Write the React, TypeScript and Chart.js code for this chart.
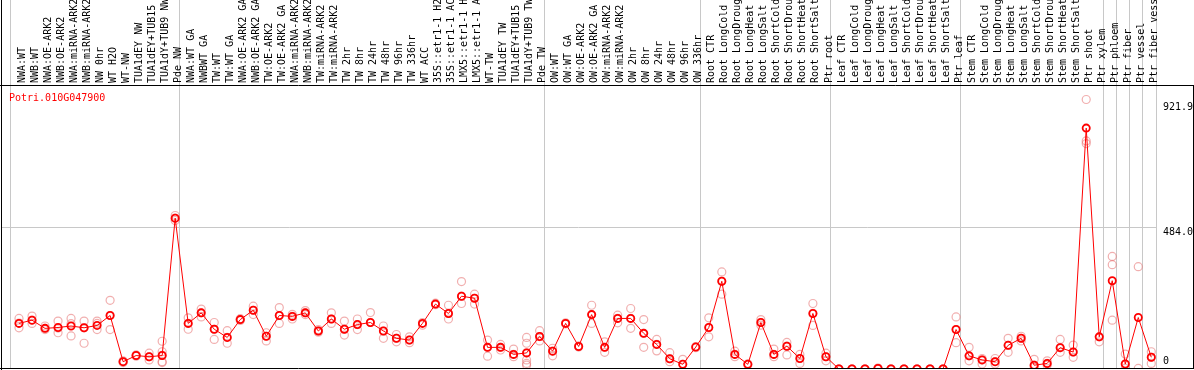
import React, { useEffect, useRef } from 'react';
import { Chart, registerables } from 'chart.js';

Chart.register(...registerables);

const GENE_ID = 'Potri.010G047900';

const CATEGORIES: string[] = [
  'NWA:WT', 'NWB:WT', 'NWA:OE-ARK2', 'NWB:OE-ARK2', 'NWA:miRNA-ARK2', 'NWB:miRNA-ARK2',
  'NW 0hr', 'WT H2O', 'WT-NW', 'TUA1dEY NW', 'TUA1dEY+TUB15 NW', 'TUA1dY+TUB9 NW', 'Pde NW',
  'NWA:WT GA', 'NWBWT GA', 'TW:WT', 'TW:WT GA', 'NWA:OE-ARK2 GA', 'NWB:OE-ARK2 GA', 'TW:OE-ARK2',
  'TW:OE-ARK2 GA', 'NWA:miRNA-ARK2 GA', 'NWB:miRNA-ARK2 GA', 'TW:miRNA-ARK2', 'TW:miRNA-ARK2 GA',
  'TW 2hr', 'TW 8hr', 'TW 24hr', 'TW 48hr', 'TW 96hr', 'TW 336hr', 'WT ACC',
  '35S::etr1-1 H2O', '35S::etr1-1 ACC', 'LMX5::etr1-1 H2O', 'LMX5::etr1-1 ACC', 'WT-TW',
  'TUA1dEY TW', 'TUA1dEY+TUB15 TW', 'TUA1dY+TUB9 TW', 'Pde TW',
  'OW:WT', 'OW:WT GA', 'OW:OE-ARK2', 'OW:OE-ARK2 GA', 'OW:miRNA-ARK2', 'OW:miRNA-ARK2 GA',
  'OW 2hr', 'OW 8hr', 'OW 24hr', 'OW 48hr', 'OW 96hr', 'OW 336hr',
  'Root CTR', 'Root LongCold', 'Root LongDrought', 'Root LongHeat', 'Root LongSalt',
  'Root ShortCold', 'Root ShortDrought', 'Root ShortHeat', 'Root ShortSalt', 'Ptr root',
  'Leaf CTR', 'Leaf LongCold', 'Leaf LongDrought', 'Leaf LongHeat', 'Leaf LongSalt',
  'Leaf ShortCold', 'Leaf ShortDrought', 'Leaf ShortHeat', 'Leaf ShortSalt', 'Ptr leaf',
  'Stem CTR', 'Stem LongCold', 'Stem LongDrought', 'Stem LongHeat', 'Stem LongSalt',
  'Stem ShortCold', 'Stem ShortDrought', 'Stem ShortHeat', 'Stem ShortSalt', 'Ptr shoot', 'Ptr xylem',
  'Ptr phloem', 'Ptr fiber', 'Ptr vessel', 'Ptr fiber vessel',
];

// first category index of each group (last entry = end)
const GROUP_STARTS: number[] = [0, 13, 41, 53, 63, 73, 84, 85, 86, 87, 88];

const MEANS: number[] = [
  156, 167, 139, 142, 147, 141, 149, 183, 25, 46, 42, 46, 516,
  156, 192, 136, 108, 169, 201, 112, 183, 180, 192, 130, 171, 136, 152, 159, 130, 105, 99,
  156, 222, 190, 249, 242, 74, 74, 50, 55, 111,
  61, 156, 77, 186, 74, 173, 173, 122, 84, 35, 16, 75,
  142, 300, 50, 16, 159, 50, 78, 36, 190, 42,
  0, 0, 0, 2, 0, 0, 0, 0, 0, 135,
  45, 31, 25, 81, 105, 13, 19, 73, 58, 824, 110,
  302, 17, 176, 40,
];

const REPLICATES: number[][] = [
  [173, 157, 141], [181, 167, 156], [147, 139, 135], [164, 140, 124], [173, 155, 113],
  [164, 141, 88], [164, 156, 135], [235, 183, 135], [28, 25, 22], [48, 46, 44],
  [54, 42, 31], [95, 59, 47, 25, 22], [525, 516, 508],
  [175, 156, 136], [205, 192, 178], [159, 136, 101], [131, 108, 88], [172, 169, 166],
  [215, 201, 186], [124, 112, 96], [210, 183, 156], [187, 180, 171], [200, 192, 186],
  [135, 130, 126], [192, 171, 156], [164, 136, 116], [171, 152, 135], [193, 159],
  [147, 130, 105], [118, 105, 93], [110, 99, 90], [159, 150], [225, 220],
  [218, 190, 171], [299, 249, 224], [256, 242, 222], [99, 74, 44], [84, 74, 65],
  [68, 50, 42], [108, 88, 55, 31, 19, 13], [131, 111, 96],
  [71, 61, 45], [158, 154], [79, 75], [218, 186, 156], [93, 74, 57], [184, 173, 158],
  [207, 173, 139], [169, 122, 74], [101, 84, 62], [56, 35, 25], [33, 16], [77, 73],
  [175, 142, 110], [332, 300, 256], [61, 50, 42], [18, 14], [169, 159, 150],
  [68, 50, 42], [91, 78, 48], [50, 36, 19], [224, 190, 149], [54, 42, 28],
  [0, 0, 0], [0, 0, 0], [0, 0, 0], [3, 2, 1], [0, 0, 0], [0, 0, 0], [0, 0, 0], [0, 0, 0],
  [0, 0, 0], [178, 135, 90],
  [74, 45, 28], [36, 31, 17], [36, 25, 17], [105, 81, 57], [112, 105, 96], [33, 13, 6],
  [28, 19, 13], [101, 73, 57], [82, 58, 40], [921.9, 780, 771], [110, 93],
  [385, 357, 167], [51, 17, 2], [350, 2], [59, 40, 19],
];

const RED = '#ff0000';
const REP_COLOR = 'rgba(230, 110, 110, 0.55)';
const GRID = '#c8c8c8';
const NONE = 'rgba(0,0,0,0)';
const FONT = "'DejaVu Sans Mono', monospace";

// category i sits 0.638 of a slot to the right of its group boundary
const EDGE = 0.638;
const X_MIN = -1.383;
const X_MAX = GROUP_STARTS[GROUP_STARTS.length - 1] - EDGE;

const framePlugin = {
  id: 'frame',
  afterDraw(chart: any) {
    const { ctx, chartArea } = chart;
    const W = chart.width;
    ctx.save();
    ctx.strokeStyle = '#000';
    ctx.lineWidth = 1;
    ctx.beginPath();
    ctx.moveTo(0, chartArea.top - 0.5);
    ctx.lineTo(W, chartArea.top - 0.5);
    ctx.moveTo(0, chartArea.bottom - 0.5);
    ctx.lineTo(W, chartArea.bottom - 0.5);
    ctx.moveTo(chartArea.left + 0.5, 0);
    ctx.lineTo(chartArea.left + 0.5, chart.height);
    ctx.moveTo(W - 0.5, chartArea.top);
    ctx.lineTo(W - 0.5, chartArea.bottom);
    ctx.stroke();
    ctx.fillStyle = RED;
    ctx.font = `10px ${FONT}`;
    ctx.textBaseline = 'alphabetic';
    ctx.textAlign = 'left';
    ctx.fillText(GENE_ID, 9, chartArea.top + 15);
    ctx.restore();
  },
};

export default function App() {
  const ref = useRef<HTMLCanvasElement | null>(null);

  useEffect(() => {
    if (!ref.current) return;
    const peak = Math.max(...MEANS, ...REPLICATES.flat());
    const yTop = peak * 1.05;
    const mid = yTop / 2;

    const repPoints = REPLICATES.flatMap((reps, i) => reps.map((v) => ({ x: i, y: v })));
    const meanPoints = MEANS.map((v, i) => ({ x: i, y: v }));

    const chart = new Chart(ref.current, {
      type: 'line',
      data: {
        datasets: [
          {
            label: 'mean',
            data: meanPoints,
            borderColor: RED,
            borderWidth: 1,
            pointRadius: 3.6,
            pointBorderWidth: 1.8,
            pointBorderColor: RED,
            pointBackgroundColor: NONE,
            tension: 0,
            order: 1,
          },
          {
            label: 'replicates',
            data: repPoints,
            showLine: false,
            pointRadius: 4,
            pointBorderWidth: 1.2,
            pointBorderColor: REP_COLOR,
            pointBackgroundColor: NONE,
            order: 2,
          },
        ],
      },
      plugins: [framePlugin],
      options: {
        animation: false,
        responsive: false,
        layout: { autoPadding: false, padding: { left: 1, right: 0, top: 0, bottom: 1 } },
        plugins: { legend: { display: false }, tooltip: { enabled: false } },
        scales: {
          x: {
            type: 'linear',
            position: 'top',
            min: X_MIN,
            max: X_MAX,
            afterBuildTicks: (s: any) => {
              const t = [
                ...CATEGORIES.map((_, i) => i),
                ...GROUP_STARTS.map((g) => g - EDGE),
              ].sort((a, b) => a - b);
              s.ticks = t.map((v) => ({ value: v }));
            },
            afterFit: (s: any) => {
              s.height = 86;
              s.paddingLeft = 0;
              s.paddingRight = 0;
              s.paddingTop = 0;
              s.paddingBottom = 0;
            },
            grid: {
              color: (c: any) => (c.tick && !Number.isInteger(c.tick.value) ? GRID : NONE),
              tickLength: 86,
              lineWidth: 1,
            },
            border: { display: false },
            ticks: {
              autoSkip: false,
              minRotation: 90,
              maxRotation: 90,
              padding: -83,
              labelOffset: 15,
              color: '#000',
              font: { family: FONT, size: 10 },
              callback: (v: any) => (Number.isInteger(v) ? CATEGORIES[v] : ''),
            },
          },
          y: {
            type: 'linear',
            position: 'right',
            min: 0,
            max: yTop,
            afterBuildTicks: (s: any) => {
              s.ticks = [0, mid, peak].map((v) => ({ value: v }));
            },
            afterFit: (s: any) => {
              s.width = 38;
              s.paddingTop = 0;
              s.paddingBottom = 0;
              s.paddingLeft = 0;
              s.paddingRight = 0;
            },
            grid: {
              color: (c: any) => (c.tick && Math.abs(c.tick.value - mid) < 1e-6 ? GRID : NONE),
              drawTicks: false,
            },
            border: { display: false },
            ticks: {
              autoSkip: false,
              padding: 7,
              color: '#000',
              font: { family: FONT, size: 10, lineHeight: 0.5 },
              callback: (v: any) => {
                if (v === 0) return ['0', '', '', ''];
                if (Math.abs(v - mid) < 1e-6) return ['', '', v.toFixed(1)];
                return ['', '', '', v.toFixed(1)];
              },
            },
          },
        },
      },
    });
    return () => chart.destroy();
  }, []);

  return (
    <div style={{ position: 'fixed', left: 0, top: 0, width: 1194, height: 370, background: '#fff' }}>
      <canvas ref={ref} width={1194} height={370} style={{ display: 'block' }} />
    </div>
  );
}
